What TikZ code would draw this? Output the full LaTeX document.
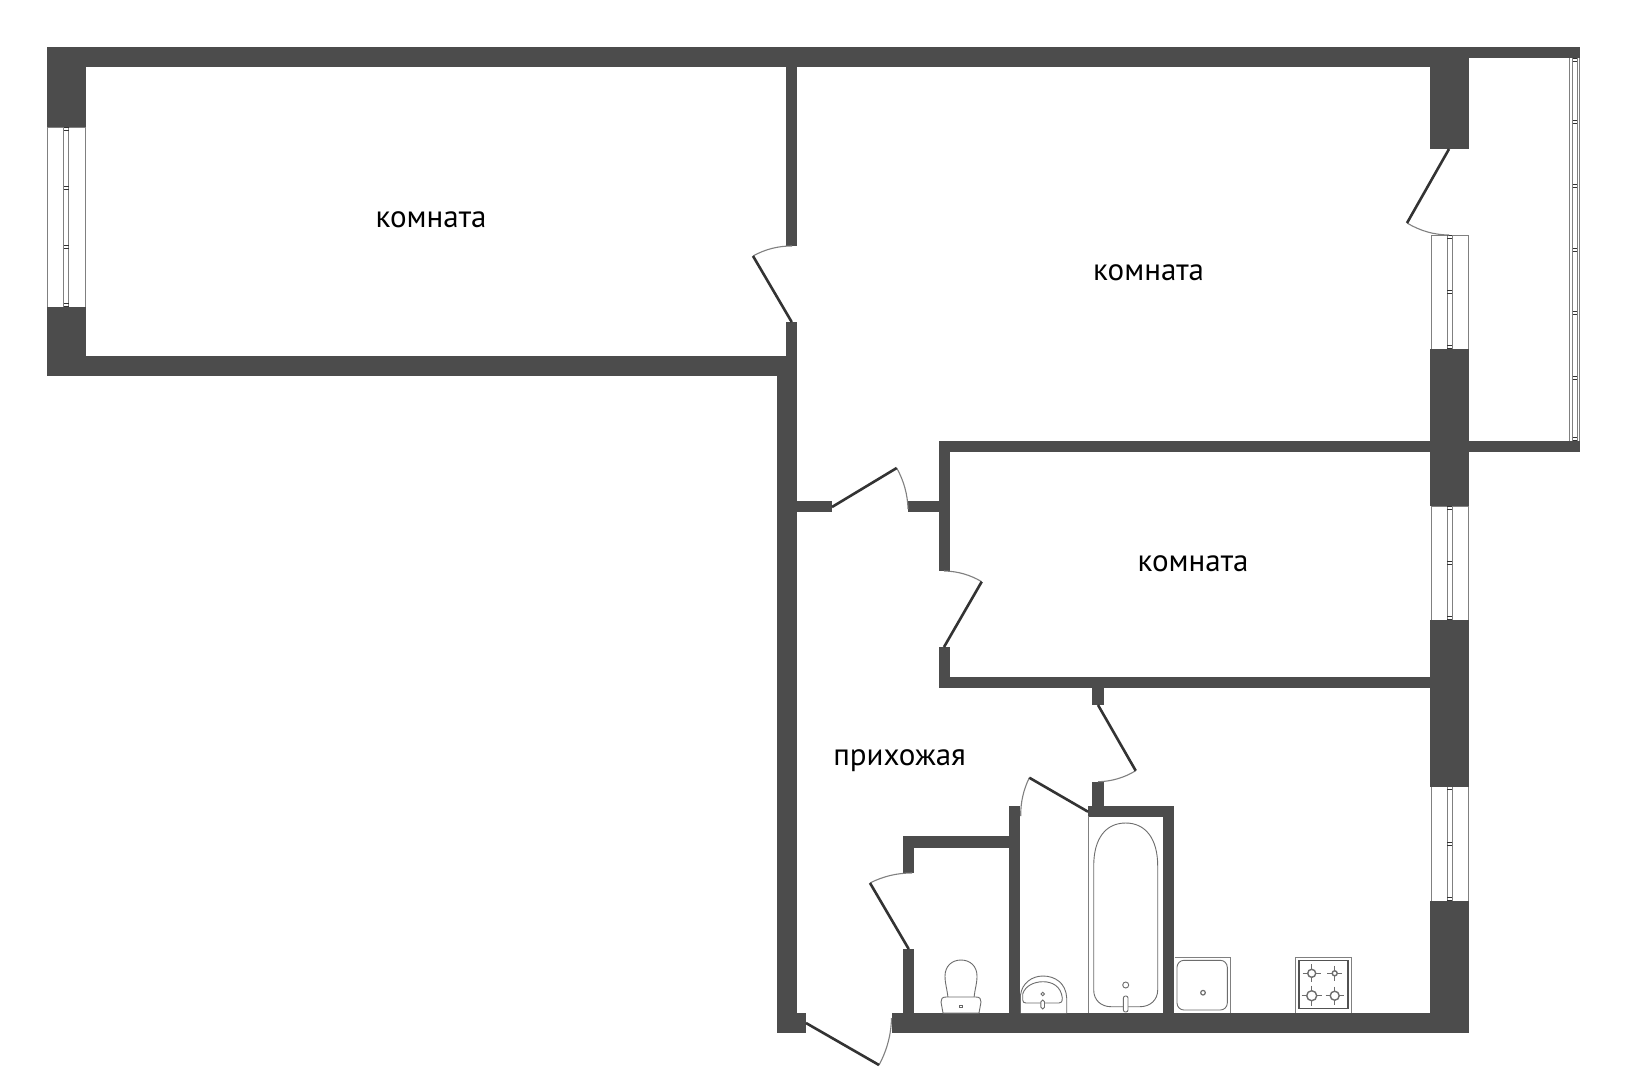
\documentclass[tikz,border=0pt]{standalone}
\usepackage{fontspec}
\setmainfont{PT Sans}
\usetikzlibrary{calc}
\definecolor{wallc}{HTML}{4C4C4C}
\definecolor{leafc}{HTML}{333333}
\definecolor{linec}{HTML}{808080}
\tikzset{
  roomlabel/.style={font=\fontsize{31}{31}\selectfont, text=black, inner sep=0pt},
  wallfill/.style={fill=wallc},
  thinl/.style={draw=linec, line width=1pt},
  fixt/.style={draw=linec!85!black, line width=0.9pt, fill=white},
  leaf/.style={draw=leafc, line width=2.6pt},
  swing/.style={draw=linec, line width=1.1pt},
}
\newcommand{\wallr}[4]{\fill[wallfill] (#1,#2) rectangle (#3,#4);}
% hinge, tip, end of swing
\newcommand{\doorleaf}[3]{%
  \coordinate (dH) at (#1); \coordinate (dT) at (#2); \coordinate (dE) at (#3);
  \coordinate (dM) at ($(dT)!.5!(dE)$);
  \coordinate (dC) at ($(dH)!1.072!(dM)$);
  \draw[swing] (dT) .. controls ($(dT)!.667!(dC)$) and ($(dE)!.667!(dC)$) .. (dE);
  \draw[leaf] (dH) -- (dT);}
% x1,y1,x2,y2, tick list
\newcommand{\winr}[5]{%
  \pgfmathsetmacro{\xm}{(#1+#3)/2}
  \draw[thinl, fill=white] (#1,#2) rectangle (#3,#4);
  \draw[thinl] (\xm-2.5,#2) rectangle (\xm+2.5,#4);
  \foreach \ty in {#5} {
    \draw[draw=leafc, line width=.7pt] (\xm-2.5,\ty-1.3) -- (\xm+2.5,\ty-1.3);
    \draw[draw=leafc, line width=.7pt] (\xm-2.5,\ty+1.3) -- (\xm+2.5,\ty+1.3);
  }}
\begin{document}
\begin{tikzpicture}[x=1pt,y=-1pt]
\useasboundingbox (0,0) rectangle (1627,1080);
\fill[white] (0,0) rectangle (1627,1080);
% balcony glazing
\draw[thinl] (1569,57.7) -- (1569,441);
\draw[thinl] (1579.5,57.7) -- (1579.5,441);
\draw[thinl] (1572.5,57.7) -- (1572.5,441);
\draw[thinl] (1577,57.7) -- (1577,441);
\foreach \ty in {60,122,186,250,313,378,439} {
  \draw[draw=leafc, line width=.7pt] (1572.5,\ty-1.3) -- (1577,\ty-1.3);
  \draw[draw=leafc, line width=.7pt] (1572.5,\ty+1.3) -- (1577,\ty+1.3);
}
% windows
\winr{47.3}{127.3}{85.3}{307.3}{129,188,247,305}
\winr{1431}{235}{1468.5}{349}{237,292,347}
\winr{1431}{506}{1468.5}{620}{508,563,618}
\winr{1431}{786.5}{1468.5}{901}{788,844,899}
% walls
\wallr{46.7}{46.7}{1469}{66.7}
\wallr{1469}{46.7}{1580}{57.7}
\wallr{46.7}{46.7}{86}{127.3}
\wallr{46.7}{307.3}{86}{376}
\wallr{46.7}{355.7}{797}{376}
\wallr{786}{60}{797.3}{246}
\wallr{786}{322}{797.3}{376}
\wallr{776.7}{355.7}{797}{1033.3}
\wallr{797}{501}{832}{511.7}
\wallr{907.7}{501}{950}{511.7}
\wallr{939}{441}{950}{571}
\wallr{939}{646.7}{950}{688}
\wallr{939}{441}{1430.5}{452.3}
\wallr{939}{677.3}{1430.5}{688}
\wallr{1430}{46.7}{1469}{149}
\wallr{1430}{349}{1469}{506}
\wallr{1430}{620}{1469}{786.5}
\wallr{1430}{901}{1469}{1033.3}
\wallr{1469}{441}{1580}{452.3}
\wallr{776.7}{1012.5}{806}{1033.3}
\wallr{891.7}{1012.7}{1469}{1033.3}
\wallr{1092.3}{687}{1103.7}{705}
\wallr{1092.3}{781.7}{1103.7}{806}
\wallr{1087.7}{806}{1174.3}{816.7}
\wallr{1163.3}{806}{1174.3}{1013}
\wallr{1009.3}{806}{1020.3}{1013}
\wallr{902.7}{836}{1010}{847.7}
\wallr{902.7}{836}{914}{873}
\wallr{902.7}{949}{914}{1013}
\draw[thinl] (1088,816) -- (1088,1013);
% doors
\doorleaf{1449,149}{1407,223}{1449,235}
\doorleaf{791.7,322}{753,256}{792,246}
\doorleaf{832,507}{896.7,468}{908,509}
\doorleaf{944,647}{981.7,581.7}{944,571}
\doorleaf{1098,705}{1135.7,770.7}{1098,781.7}
\doorleaf{1088,811.7}{1029.3,777.7}{1020.7,816}
\doorleaf{908.7,949}{870,883}{912,873}
\doorleaf{806,1023}{879,1065}{891.5,1018}
% toilet
\draw[fixt] (948,998) .. controls (947,988) and (945,984) .. (945,976) .. controls (945,966) and (952,960) .. (961,960) .. controls (970,960) and (977,966) .. (977,976) .. controls (977,984) and (975,988) .. (974,998) -- cycle;
\draw[fixt] (946,997) -- (976,997) .. controls (980,997) and (981,999) .. (981,1002) -- (979,1013) -- (943,1013) -- (941,1002) .. controls (941,999) and (942,997) .. (946,997) -- cycle;
\draw[draw=linec!80!black, line width=.7pt] (959.5,1005) rectangle (962.5,1007.5);
% washbasin
\draw[fixt] (1020.5,1013) -- (1020.5,995) .. controls (1022,983) and (1032,976) .. (1043,976) .. controls (1055,976) and (1066,983) .. (1066.7,998) -- (1066.7,1013);
\draw[fixt] (1022.7,1000) -- (1022.7,994) .. controls (1025,986) and (1034,981.7) .. (1043,981.7) .. controls (1052,981.7) and (1061,986) .. (1062.3,998) .. controls (1062.3,1002) and (1061,1003) .. (1059,1003) -- (1026,1003) .. controls (1024,1003) and (1022.7,1002) .. (1022.7,1000) -- cycle;
\draw[fixt] (1042.7,994) circle (1.8);
\draw[fixt, rounded corners=1.8pt] (1040.9,1000) rectangle (1044.5,1009);
% bathtub
\draw[fixt, fill=none] (1093.7,990) -- (1093.7,866) .. controls (1093.7,838) and (1106,823) .. (1125.7,823) .. controls (1145,823) and (1157.7,838) .. (1157.7,866) -- (1157.7,990) .. controls (1157.7,1000) and (1150,1006.7) .. (1140,1006.7) -- (1111,1006.7) .. controls (1101,1006.7) and (1093.7,1000) .. (1093.7,990) -- cycle;
\draw[fixt] (1125.7,985) circle (3);
\draw[fixt, rounded corners=2pt] (1123.4,996) rectangle (1128,1012);
% kitchen sink
\draw[thinl] (1174.7,957.3) -- (1230.3,957.3) -- (1230.3,1013);
\draw[fixt, rounded corners=7pt] (1177,960.3) rectangle (1227.3,1010);
\draw[fixt, line width=1.2pt] (1203,992.7) circle (2.3);
% stove
\draw[thinl] (1295,1013) -- (1295,957.3) -- (1351.7,957.3) -- (1351.7,1013);
\draw[draw=leafc!85!white, line width=1.2pt] (1299,960.7) rectangle (1348,1008.3);
\foreach \bx/\by/\br/\bl in {1311.7/973.3/4/9,1334.7/973.3/2.5/7.5,1311.7/995.7/5/10,1334.7/995.7/4.5/9} {
  \draw[draw=linec!85!black, line width=1.5pt] (\bx-\bl,\by) -- (\bx+\bl,\by) (\bx,\by-\bl) -- (\bx,\by+\bl);
  \draw[draw=linec!85!black, line width=1.4pt, fill=white] (\bx,\by) circle (\br);
}
% labels
\node[roomlabel] (r1) at (431,219.5) {комната};
\node[roomlabel] (r2) at (1148.6,272.5) {комната};
\node[roomlabel] (r3) at (1193,563.5) {комната};
\node[roomlabel] (r4) at (899.6,760.5) {прихожая};
\end{tikzpicture}
\end{document}
